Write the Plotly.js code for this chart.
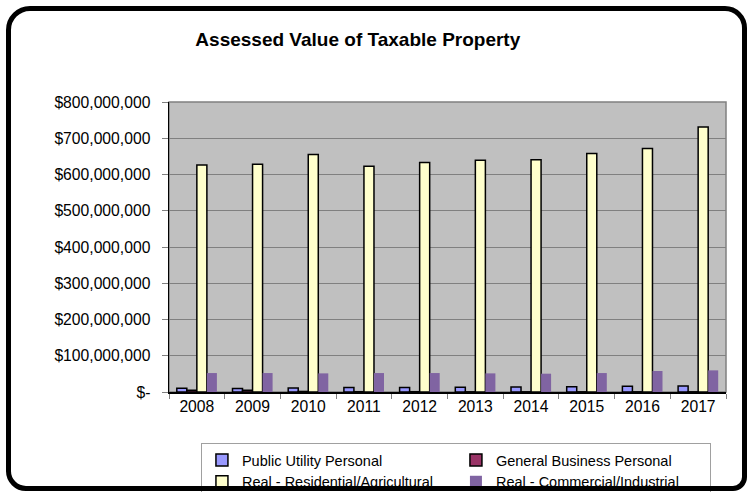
<!DOCTYPE html>
<html>
<head>
<meta charset="utf-8">
<script src="https://cdn.plot.ly/plotly-3.0.1.min.js"></script>
<style>
  html, body { margin: 0; padding: 0; background: #ffffff; }
  #wrap { position: relative; width: 747px; height: 492px; overflow: hidden; }
  #chart { position: absolute; left: 0; top: 0; width: 747px; height: 492px; }
  #frame { position: absolute; left: 6px; top: 6px; width: 741px; height: 485px; box-sizing: border-box;
           border: 5px solid #000; border-radius: 24px 22px 14px 20px; pointer-events: none; }
</style>
</head>
<body>
<div id="wrap">
  <div id="chart"></div>
  <div id="frame"></div>
</div>
<script>
const years = ["2008","2009","2010","2011","2012","2013","2014","2015","2016","2017"];
const publicUtility = [10.1e6, 10.0e6, 11.0e6, 12.5e6, 12.6e6, 12.8e6, 13.6e6, 14.6e6, 15.6e6, 16.5e6];
const generalBusiness = [5.0e6, 4.5e6, 1.5e6, 0.8e6, 0.8e6, 0.5e6, 0.5e6, 0.5e6, 0.5e6, 0.5e6];
const residential = [626e6, 628e6, 655e6, 623e6, 633e6, 639e6, 641e6, 658e6, 672e6, 731e6];
const commercial = [52.3e6, 52.3e6, 51.4e6, 52.3e6, 52.3e6, 51.4e6, 50.5e6, 52.3e6, 57.9e6, 59.7e6];
const yTickVals = [0, 100e6, 200e6, 300e6, 400e6, 500e6, 600e6, 700e6, 800e6];
const yTickText = ["$-", "$100,000,000", "$200,000,000", "$300,000,000", "$400,000,000",
                   "$500,000,000", "$600,000,000", "$700,000,000", "$800,000,000"];

const FONT = "Liberation Sans, Arial, sans-serif";

const traces = [
  {type: "bar", name: "Public Utility Personal", x: years, y: publicUtility,
   marker: {color: "#9999ff", line: {color: "#000000", width: 1.5}}},
  {type: "bar", name: "General Business Personal", x: years, y: generalBusiness,
   marker: {color: "#993366", line: {color: "#000000", width: 1.5}}},
  {type: "bar", name: "Real - Residential/Agricultural", x: years, y: residential,
   marker: {color: "#ffffcc", line: {color: "#000000", width: 1.5}}},
  {type: "bar", name: "Real - Commercial/Industrial", x: years, y: commercial,
   marker: {color: "#8064a2", line: {color: "#8064a2", width: 0}}}
];

const layout = {
  width: 747, height: 492,
  margin: {l: 169, r: 21, t: 102, b: 100, pad: 0},
  paper_bgcolor: "#ffffff",
  plot_bgcolor: "#c0c0c0",
  font: {family: FONT, color: "#000000", size: 15.7},
  title: {text: "<b>Assessed Value of Taxable Property</b>", font: {family: FONT, size: 19, color: "#000"},
          xref: "container", yref: "container", x: 0.479, xanchor: "center", y: 0.92, yanchor: "middle"},
  barmode: "group",
  bargap: 0.28,
  bargroupgap: 0,
  showlegend: true,
  legend: {orientation: "h", xref: "container", yref: "container",
           x: 0.269, xanchor: "left", y: 0.0996, yanchor: "top",
           bgcolor: "#ffffff", bordercolor: "#a0a0a0", borderwidth: 1,
           font: {family: FONT, size: 14.5, color: "#000"},
           entrywidth: 209, entrywidthmode: "pixels", traceorder: "normal"},
  xaxis: {type: "category", showline: true, linecolor: "#000000", linewidth: 1.5,
          ticks: "outside", tickson: "boundaries", ticklen: 5, tickcolor: "#808080", tickwidth: 1,
          showgrid: false, tickfont: {family: FONT, size: 15.7}, fixedrange: true},
  yaxis: {range: [0, 800e6], tickvals: yTickVals, ticktext: yTickText,
          showline: true, linecolor: "#000000", linewidth: 1.5,
          ticks: "outside", ticklen: 6, tickcolor: "#808080", tickwidth: 1,
          showgrid: true, gridcolor: "#808080", gridwidth: 1, zeroline: false,
          ticklabelstandoff: 8,
          tickfont: {family: FONT, size: 15.7}, fixedrange: true},
  shapes: [
    {type: "rect", xref: "paper", yref: "paper", x0: 0, x1: 1, y0: 0, y1: 1,
     line: {color: "#808080", width: 1.5}, fillcolor: "rgba(0,0,0,0)", layer: "below"}
  ]
};

Plotly.newPlot("chart", traces, layout, {displayModeBar: false, staticPlot: true});
</script>
</body>
</html>
